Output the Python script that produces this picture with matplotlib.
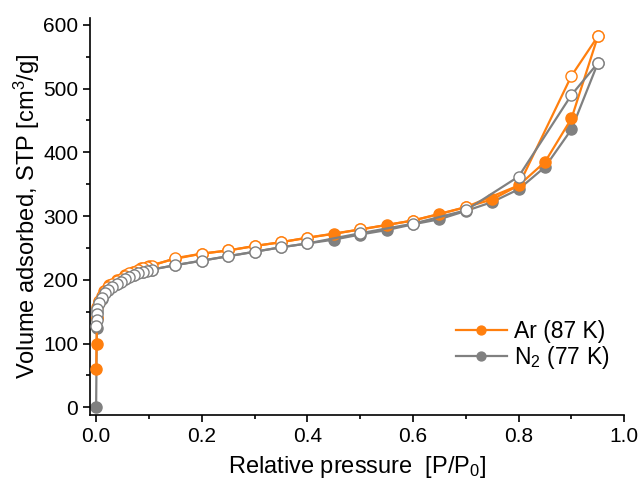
import matplotlib
matplotlib.use("Agg")
import matplotlib.pyplot as plt

plt.rcParams['font.family'] = ['Liberation Sans', 'DejaVu Sans']
plt.rcParams['mathtext.default'] = 'regular'

# Ar (87 K) adsorption branch (filled)
ar_ads_p = [0.0003, 0.0008, 0.002, 0.006, 0.015, 0.025, 0.04, 0.055, 0.07, 0.085, 0.1,
            0.15, 0.2, 0.25, 0.3, 0.35, 0.4, 0.45, 0.5, 0.55, 0.6, 0.65, 0.7, 0.75,
            0.8, 0.85, 0.9, 0.95]
ar_ads_v = [60, 100, 140, 165, 182, 192, 200, 207, 213, 218, 222,
            233, 241, 246, 253, 259, 266, 272, 279, 286, 293, 303, 314, 326,
            348, 385, 453, 582]
# Ar (87 K) desorption branch (open)
ar_des_p = [0.95, 0.9, 0.8, 0.7, 0.6, 0.5, 0.4, 0.35, 0.3, 0.25, 0.2, 0.15,
            0.105, 0.096, 0.088, 0.079, 0.071, 0.063, 0.055, 0.047, 0.039, 0.031,
            0.023, 0.017, 0.011, 0.0063, 0.0025, 0.001]
ar_des_v = [582, 520, 348, 314, 293, 279, 266, 259, 253, 246, 241, 234,
            222, 220, 218, 215, 212, 210, 206, 202, 198, 193,
            188, 182, 175, 167, 157, 140]

# N2 (77 K) adsorption branch (filled)
n2_ads_p = [0.0, 0.0013, 0.0025, 0.011, 0.023, 0.039, 0.055, 0.071, 0.088, 0.105,
            0.15, 0.2, 0.25, 0.3, 0.35, 0.4, 0.45, 0.5, 0.55, 0.6, 0.65, 0.7, 0.75,
            0.8, 0.85, 0.9, 0.95]
n2_ads_v = [0, 124, 150, 170, 184, 193, 201, 207, 212, 216,
            223, 230, 237, 244, 251, 257, 263, 271, 278, 287, 295, 308, 322,
            342, 377, 436, 540]
# N2 (77 K) desorption branch (open)
n2_des_p = [0.95, 0.9, 0.8, 0.7, 0.6, 0.5, 0.4, 0.35, 0.3, 0.25, 0.2, 0.15,
            0.105, 0.096, 0.088, 0.079, 0.071, 0.063, 0.055, 0.047, 0.039, 0.031,
            0.023, 0.017, 0.011, 0.0063, 0.0025, 0.0012, 0.0008, 0.0004]
n2_des_v = [540, 490, 362, 309, 288, 273, 257, 251, 244, 237, 230, 223,
            216, 214, 212, 210, 207, 205, 201, 197, 193, 189,
            184, 179, 172, 164, 155, 146, 137, 127]

orange = '#ff7f0e'
grey = '#808080'
ms = 8
lw = 1.6

fig = plt.figure(figsize=(6.39, 4.84), dpi=100)
ax = fig.add_axes([0.141, 0.1426, 0.836, 0.8194])

ax.plot(n2_ads_p, n2_ads_v, '-o', color=grey, mfc=grey, mec=grey, ms=ms, lw=lw,
        label='N$_2$ (77 K)', zorder=2)
ax.plot(ar_ads_p, ar_ads_v, '-o', color=orange, mfc=orange, mec=orange, ms=ms, lw=lw,
        label='Ar (87 K)', zorder=3)
ax.plot(n2_des_p, n2_des_v, '-o', color=grey, mfc='white', mec=grey, ms=ms, lw=lw,
        mew=1.0, zorder=4)
ar_marks = [i for i in range(len(ar_des_p)) if i != 2]
ax.plot(ar_des_p, ar_des_v, '-o', color=orange, mfc='white', mec=orange, ms=ms, lw=lw,
        mew=1.0, markevery=ar_marks, zorder=3.5)

ax.set_xlim(-0.0114, 1.0)
ax.set_ylim(-12, 610)
ax.set_xticks([0.0, 0.2, 0.4, 0.6, 0.8, 1.0])
ax.set_xticks([0.1, 0.3, 0.5, 0.7, 0.9], minor=True)
ax.set_yticks([0, 100, 200, 300, 400, 500, 600])
ax.set_yticks([50, 150, 250, 350, 450, 550], minor=True)
ax.set_xticklabels(['0.0', '0.2', '0.4', '0.6', '0.8', '1.0'])

for s in ['top', 'right']:
    ax.spines[s].set_visible(False)
for s in ['left', 'bottom']:
    ax.spines[s].set_linewidth(1.2)
ax.tick_params(which='major', direction='out', length=5, width=1.2, labelsize=15)
ax.tick_params(which='minor', direction='out', length=3, width=1.2)

ax.set_xlabel('Relative pressure  [P/P$_0$]', fontsize=17, labelpad=6)
ax.set_ylabel('Volume adsorbed, STP [cm$^3$/g]', fontsize=17, labelpad=1)

h, l = ax.get_legend_handles_labels()
ax.legend(h[::-1], l[::-1], loc='lower right', bbox_to_anchor=(1.01, 0.06),
          frameon=False, fontsize=16.5, handlelength=2.2, markerscale=0.8,
          handletextpad=0.3, labelspacing=0.02)

fig.savefig('out.png', dpi=100)
